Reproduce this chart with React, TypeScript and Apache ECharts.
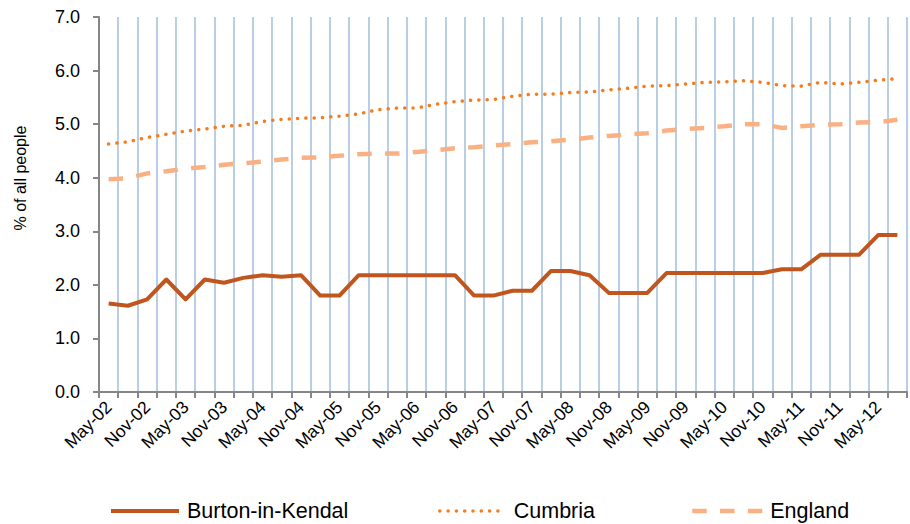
import React, { useEffect, useRef } from "react";
import * as echarts from "echarts";

const categories = [
  "May-02", "Aug-02", "Nov-02", "Feb-03", "May-03", "Aug-03", "Nov-03", "Feb-04",
  "May-04", "Aug-04", "Nov-04", "Feb-05", "May-05", "Aug-05", "Nov-05", "Feb-06",
  "May-06", "Aug-06", "Nov-06", "Feb-07", "May-07", "Aug-07", "Nov-07", "Feb-08",
  "May-08", "Aug-08", "Nov-08", "Feb-09", "May-09", "Aug-09", "Nov-09", "Feb-10",
  "May-10", "Aug-10", "Nov-10", "Feb-11", "May-11", "Aug-11", "Nov-11", "Feb-12",
  "May-12", "Aug-12",
];

const burton = [
  1.65, 1.61, 1.73, 2.10, 1.73, 2.10, 2.04, 2.13, 2.18, 2.15, 2.18, 1.80, 1.80, 2.18,
  2.18, 2.18, 2.18, 2.18, 2.18, 1.80, 1.80, 1.89, 1.89, 2.26, 2.26, 2.18, 1.85, 1.85,
  1.85, 2.22, 2.22, 2.22, 2.22, 2.22, 2.22, 2.29, 2.29, 2.56, 2.56, 2.56, 2.93, 2.93,
];

const cumbria = [
  4.63, 4.67, 4.75, 4.81, 4.87, 4.91, 4.96, 4.98, 5.05, 5.09, 5.11, 5.12, 5.15, 5.19,
  5.27, 5.30, 5.30, 5.37, 5.42, 5.45, 5.46, 5.52, 5.56, 5.56, 5.59, 5.60, 5.64, 5.67,
  5.71, 5.72, 5.75, 5.78, 5.79, 5.81, 5.78, 5.72, 5.71, 5.78, 5.75, 5.78, 5.82, 5.85,
];

const england = [
  3.97, 3.99, 4.08, 4.12, 4.17, 4.20, 4.24, 4.27, 4.30, 4.34, 4.37, 4.38, 4.41, 4.44,
  4.45, 4.45, 4.48, 4.51, 4.55, 4.57, 4.60, 4.63, 4.66, 4.68, 4.71, 4.75, 4.78, 4.81,
  4.83, 4.88, 4.91, 4.93, 4.96, 5.00, 5.00, 4.93, 4.96, 4.99, 5.00, 5.03, 5.04, 5.08,
];

const seriesNames = ["Burton-in-Kendal", "Cumbria", "England"];
const yAxisTitle = "% of all people";

const FONT = "'Liberation Sans', Arial, sans-serif";

const BURTON_STYLE = { color: "#C0561D", width: 4, type: "solid" as any, cap: "butt" as any };
const CUMBRIA_STYLE = { color: "#F47D20", width: 3.5, type: [0.1, 8.2] as any, cap: "round" as any };
const ENGLAND_STYLE = { color: "#F9B184", width: 4.5, type: [14.5, 13.3] as any, cap: "butt" as any };

function legendFor(name: string, left: number, iconWidth: number, lineStyle: any) {
  return {
    left,
    top: 500,
    padding: 0,
    itemWidth: iconWidth,
    itemHeight: 22,
    data: [
      {
        name,
        itemStyle: { color: "transparent", borderWidth: 0, opacity: 0 },
        lineStyle: { ...lineStyle },
      },
    ],
    textStyle: {
      fontFamily: FONT,
      fontSize: 21.5,
      lineHeight: 22,
      color: "#000000",
      padding: [0, 0, 0, 3],
    },
  };
}

export default function App() {
  const ref = useRef<HTMLDivElement>(null);

  useEffect(() => {
    document.body.style.margin = "0";
    if (!ref.current) return;
    const chart = echarts.init(ref.current, null, { renderer: "svg" });
    chart.setOption({
      animation: false,
      backgroundColor: "#ffffff",
      textStyle: { fontFamily: FONT },
      grid: { left: 99, right: 3, top: 17, bottom: 132, containLabel: false },
      legend: [
        legendFor(seriesNames[0], 109, 68, BURTON_STYLE),
        legendFor(seriesNames[1], 438, 66, CUMBRIA_STYLE),
        legendFor(seriesNames[2], 690, 70, ENGLAND_STYLE),
      ],
      graphic: [
        {
          type: "text",
          x: 20,
          y: 178,
          rotation: Math.PI / 2,
          style: {
            text: yAxisTitle,
            fontFamily: FONT,
            fontSize: 16,
            fill: "#000000",
            textAlign: "center",
            textVerticalAlign: "middle",
          },
        },
      ],
      xAxis: {
        type: "category",
        data: categories,
        boundaryGap: true,
        axisLine: { show: true, lineStyle: { color: "#868686", width: 2 } },
        axisTick: {
          show: true,
          interval: 0,
          alignWithLabel: false,
          length: 6,
          lineStyle: { color: "#868686", width: 2 },
        },
        axisLabel: {
          interval: 1,
          rotate: 45,
          margin: 12,
          fontFamily: FONT,
          fontSize: 17.5,
          color: "#000000",
        },
        splitLine: {
          show: true,
          interval: 0,
          lineStyle: { color: "#B9CDE5", width: 2 },
        },
      },
      yAxis: {
        type: "value",
        min: 0,
        max: 7,
        interval: 1,
        axisLine: { show: true, lineStyle: { color: "#868686", width: 2 } },
        axisTick: { show: true, length: 6, lineStyle: { color: "#868686", width: 2 } },
        axisLabel: {
          margin: 19,
          fontFamily: FONT,
          fontSize: 18,
          color: "#000000",
          formatter: (v: number) => v.toFixed(1),
        },
        splitLine: { show: false },
      },
      series: [
        {
          name: seriesNames[0],
          type: "line",
          data: burton,
          symbol: "none",
          z: 5,
          color: BURTON_STYLE.color,
          lineStyle: { ...BURTON_STYLE, join: "round" },
        },
        {
          name: seriesNames[1],
          type: "line",
          data: cumbria,
          symbol: "none",
          z: 4,
          color: CUMBRIA_STYLE.color,
          lineStyle: { ...CUMBRIA_STYLE },
        },
        {
          name: seriesNames[2],
          type: "line",
          data: england,
          symbol: "none",
          z: 3,
          color: ENGLAND_STYLE.color,
          lineStyle: { ...ENGLAND_STYLE },
        },
      ],
    });
    return () => chart.dispose();
  }, []);

  return <div ref={ref} style={{ width: 910, height: 524 }} />;
}
